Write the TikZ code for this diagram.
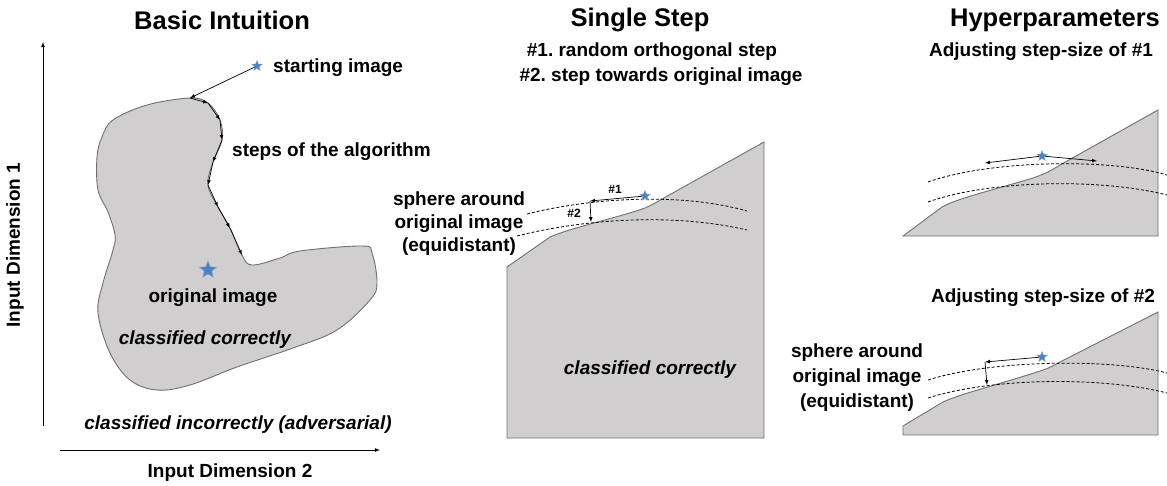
\documentclass[tikz,border=0pt]{standalone}
\usepackage{fontspec}
\setmainfont{Liberation Sans}
\frenchspacing
\usetikzlibrary{arrows,shapes.geometric}
\definecolor{regiongray}{RGB}{208,206,207}
\definecolor{edgegray}{RGB}{112,112,112}
\definecolor{starblue}{RGB}{79,129,189}

\begin{document}
\begin{tikzpicture}[x=1pt,y=-1pt,>=latex,
  title node/.style={font=\fontsize{25.5}{30}\selectfont\bfseries,inner sep=0pt},
  label node/.style={font=\fontsize{19}{23}\selectfont\bfseries,inner sep=0pt},
  italic node/.style={font=\fontsize{19}{23}\selectfont\bfseries\itshape,inner sep=0pt},
  small node/.style={font=\fontsize{12}{14}\selectfont\bfseries,inner sep=0pt},
  region/.style={fill=regiongray,draw=edgegray,line width=0.9pt},
  sphere/.style={dash pattern=on 3pt off 2pt,line width=0.8pt},
  star node/.style={star,star points=5,star point ratio=2.3,fill=starblue,draw=starblue!70,inner sep=0pt,minimum size=#1},
  step arrow/.style={->,line width=0.7pt}]
  \useasboundingbox (0,0) rectangle (1167,485);

  % basic intuition
  \draw[region] plot[smooth cycle,tension=0.6] coordinates {(190,98) (208,103) (220,120) (222,140) (213,162)
    (208,185) (218,207) (230,228) (242,255) (252,265) (280,258) (300,251) (362,246) (372,253) (377,283)
    (370,300) (337,330) (293,348) (237,367) (190,385) (157,390) (130,380) (110,353) (98,313) (103,283)
    (113,250) (115,235) (108,212) (98,190) (97,157) (102,137) (113,120) (147,105)};
  \foreach \px/\py [count=\i from 0] in {190/98,208/103,220/120,222/140,213/162,208/185,218/207,230/228,242/255}
    \coordinate (s\i) at (\px,\py);
  \foreach \i [evaluate=\i as \j using int(\i+1)] in {0,...,7}
    \draw[step arrow] (s\i) -- (s\j);

  \node[star node=11pt] (start) at (257,66) {};
  \node[star node=18pt] (orig) at (208,270) {};
  \draw[step arrow] (start) -- (s0);

  \coordinate (yaxis0) at (43,426);
  \coordinate (yaxis1) at (43,42);
  \coordinate (xaxis0) at (60,450);
  \coordinate (xaxis1) at (380,450);
  \draw[->,line width=0.8pt] (yaxis0) -- (yaxis1);
  \draw[->,line width=0.8pt] (xaxis0) -- (xaxis1);

  \node[title node] (basic) at (222,20) {Basic Intuition};
  \node[label node,anchor=west] (startlabel) at (273,68) {starting image};
  \node[label node,anchor=west] (steps) at (232,152) {steps of the algorithm};
  \node[label node] (origlabel) at (213,298) {original image};
  \node[italic node] (correct) at (205,340) {classified correctly};
  \node[italic node] (incorrect) at (238,425) {classified incorrectly (adversarial)};
  \node[label node] (dim2) at (230,473) {Input Dimension 2};
  \node[label node,rotate=90] (dim1) at (15,245) {Input Dimension 1};

  % single step
  \draw[region] (507,438) -- (507,267) -- (550,237) .. controls (570,228) and (620,217) .. (645,208)
    .. controls (652,205) and (657,202) .. (662,199) -- (764,142) -- (764,438) -- cycle;
  \draw[sphere] (527,214) .. controls (590,198) and (680,192) .. (747,211);
  \draw[sphere] (517,236) .. controls (580,220) and (670,212) .. (747,230);
  \node[star node=11pt] (mstar) at (645,196) {};
  \coordinate (m1) at (590,201);
  \coordinate (m2) at (591,222);
  \draw[step arrow] (mstar) -- (m1);
  \draw[step arrow] (m1) -- (m2);
  \node[small node] (h1) at (615,189) {\#1};
  \node[small node] (h2) at (574,213) {\#2};

  \node[title node] (single) at (640,20) {Single Step};
  \node[label node] (sub1) at (652,52) {\#1. random orthogonal step};
  \node[label node] (sub2) at (661,77) {\#2. step towards original image};
  \node[label node,align=center,font=\fontsize{19}{23}\selectfont\bfseries] (msphere) at (459,224)
    {sphere around\\original image\\(equidistant)};
  \node[italic node] (mcorrect) at (650,370) {classified correctly};

  % hyperparameters
  \draw[region] (903,236) -- (942,207) .. controls (955,199) and (1000,188) .. (1033,178)
    .. controls (1045,174) and (1052,170) .. (1060,165) -- (1158,110) -- (1158,236) -- cycle;
  \draw[sphere] (928,182) .. controls (990,160) and (1110,158) .. (1167,175);
  \draw[sphere] (928,202) .. controls (990,180) and (1100,178) .. (1167,195);
  \node[star node=11pt] (astar) at (1042,156) {};
  \coordinate (a1) at (985,163);
  \coordinate (a2) at (1097,161);
  \draw[step arrow] (astar) -- (a1);
  \draw[step arrow] (astar) -- (a2);

  \draw[region] (903,435) -- (903,426) -- (943,402) .. controls (960,394) and (1000,384) .. (1037,372)
    .. controls (1047,369) and (1053,366) .. (1060,362) -- (1158,312) -- (1158,435) -- cycle;
  \draw[sphere] (928,380) .. controls (990,360) and (1110,358) .. (1167,373);
  \draw[sphere] (928,398) .. controls (990,378) and (1100,376) .. (1167,393);
  \node[star node=11pt] (bstar) at (1042,357) {};
  \coordinate (b1) at (985,362);
  \coordinate (b2) at (987,385);
  \draw[step arrow] (bstar) -- (b1);
  \draw[step arrow] (b1) -- (b2);

  \node[title node] (hyper) at (1055,20) {Hyperparameters};
  \node[label node] (adj1) at (1041,52) {Adjusting step-size of \#1};
  \node[label node] (adj2) at (1043,298) {Adjusting step-size of \#2};
  \node[label node,align=center,font=\fontsize{19}{25}\selectfont\bfseries] (bsphere) at (857,378)
    {sphere around\\original image\\(equidistant)};
\end{tikzpicture}
\end{document}
